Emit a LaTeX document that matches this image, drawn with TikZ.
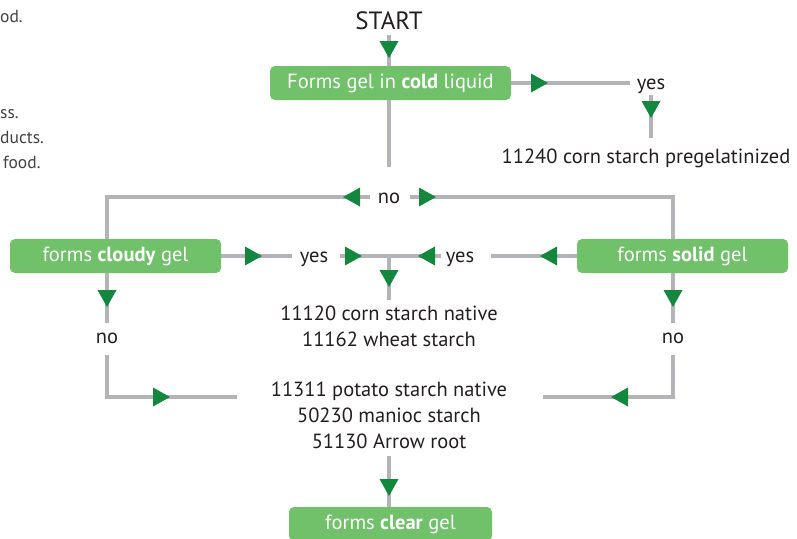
\documentclass[tikz,border=0pt]{standalone}
\usepackage{fontspec}
\setmainfont{PT Sans}
\definecolor{boxgreen}{HTML}{71C16A}
\definecolor{arrowgreen}{HTML}{14873F}
\definecolor{linegrey}{HTML}{B4B4B8}
\definecolor{textdark}{HTML}{231F20}
\newcommand{\mainsize}{\fontsize{20.5}{26}\selectfont}
\newcommand{\startsize}{\fontsize{25}{28}\selectfont}
\newcommand{\sidesize}{\fontsize{17.5}{25}\selectfont}
\begin{document}
\begin{tikzpicture}[x=1pt,y=-1pt,
  box/.style={rounded corners=5pt, fill=boxgreen, text=white, minimum height=34pt, inner sep=0pt, font=\mainsize},
  lbl/.style={text=textdark, font=\mainsize, inner sep=0pt, text height=15.5pt, text depth=3.5pt},
  multi/.style={text=textdark, font=\mainsize, inner sep=0pt, align=center},
  side/.style={text=textdark!85, font=\sidesize, inner sep=0pt, anchor=west, text height=12pt, text depth=3pt},
  conn/.style={draw=linegrey, line width=4pt},
  tri/.pic={\fill[arrowgreen] (0,0) -- (-17,-9.5) -- (-17,9.5) -- cycle;}
]
\useasboundingbox (0,0) rectangle (797,538);
\clip (0,0) rectangle (797,538);

% cut-off side text
\node[side] (s1) at (0,18) {od.};
\node[side] (s2) at (0,114) {ss.};
\node[side] (s3) at (0,139) {ducts.};
\node[side] (s4) at (3,164) {food.};

% nodes
\node[lbl, font=\startsize, text height=18pt, text depth=0pt] (start) at (389,20) {START};
\node[box, minimum width=241pt] (cold) at (390.5,83) {Forms gel in \textbf{cold} liquid};
\node[lbl] (yes1) at (651,83) {yes};
\node[lbl] (res1) at (646,157) {11240 corn starch pregelatinized};
\node[lbl] (no1) at (389,197) {no};
\node[box, minimum width=211pt] (cloudy) at (115.5,256) {forms \textbf{cloudy} gel};
\node[box, minimum width=211pt] (solid) at (682.5,256) {forms \textbf{solid} gel};
\node[lbl] (yes2) at (314,256) {yes};
\node[lbl] (yes3) at (460,256) {yes};
\node[multi] (res2) at (389,326) {11120 corn starch native\\11162 wheat starch};
\node[lbl] (no2) at (107,337) {no};
\node[lbl] (no3) at (673,337) {no};
\node[multi] (res3) at (389,415) {11311 potato starch native\\50230 manioc starch\\51130 Arrow root};
\node[box, minimum width=203pt] (clear) at (390.5,524) {forms \textbf{clear} gel};

\coordinate (c1) at (389,167);
\coordinate (jct) at (389,256);
\coordinate (c2) at (237,397);
\coordinate (c3) at (543,397);

% connectors
\draw[conn, shorten <=6pt] (start.south) -- (start.south |- cold.north);
\draw[conn] (cold.east) -- ([xshift=-7pt]yes1.west);
\draw[conn, shorten <=2.5pt, shorten >=9.5pt] (yes1.south) -- (yes1.south |- res1.north);
\draw[conn] (cold.south -| start.south) -- (c1);
\draw[conn] ([xshift=-8pt]no1.west) -| (cloudy.north -| no2.north);
\draw[conn] ([xshift=10pt]no1.east) -| (solid.north -| no3.north);
\draw[conn] (cloudy.east) -- ([xshift=-8pt]yes2.west);
\draw[conn] ([xshift=12pt]yes2.east) -- ([xshift=-5pt]yes3.west);
\draw[conn, shorten >=5pt] (jct) -- (jct |- res2.north);
\draw[conn] (solid.west) -- ([xshift=17pt]yes3.east);
\draw[conn] (cloudy.south -| no2.north) -- ([yshift=4.5pt]no2.north);
\draw[conn] ([yshift=-8.5pt]no2.south) |- (c2);
\draw[conn] (solid.south -| no3.north) -- ([yshift=4.5pt]no3.north);
\draw[conn] ([yshift=-8.5pt]no3.south) |- (c3);
\draw[conn, shorten <=7pt] (res3.south -| jct) -- (jct |- clear.north);

% arrowheads
\pic[rotate=-90] at (389,58) {tri};
\pic at (548,83) {tri};
\pic[rotate=-90] at (651,118) {tri};
\pic[rotate=180] at (343,197) {tri};
\pic at (436,197) {tri};
\pic at (262,256) {tri};
\pic at (362,256) {tri};
\pic[rotate=180] at (418,256) {tri};
\pic[rotate=-90] at (389,287) {tri};
\pic[rotate=180] at (540,256) {tri};
\pic[rotate=-90] at (107,307) {tri};
\pic[rotate=-90] at (673,307) {tri};
\pic at (170,397) {tri};
\pic[rotate=180] at (611,397) {tri};
\pic[rotate=-90] at (389,496) {tri};
\end{tikzpicture}
\end{document}
